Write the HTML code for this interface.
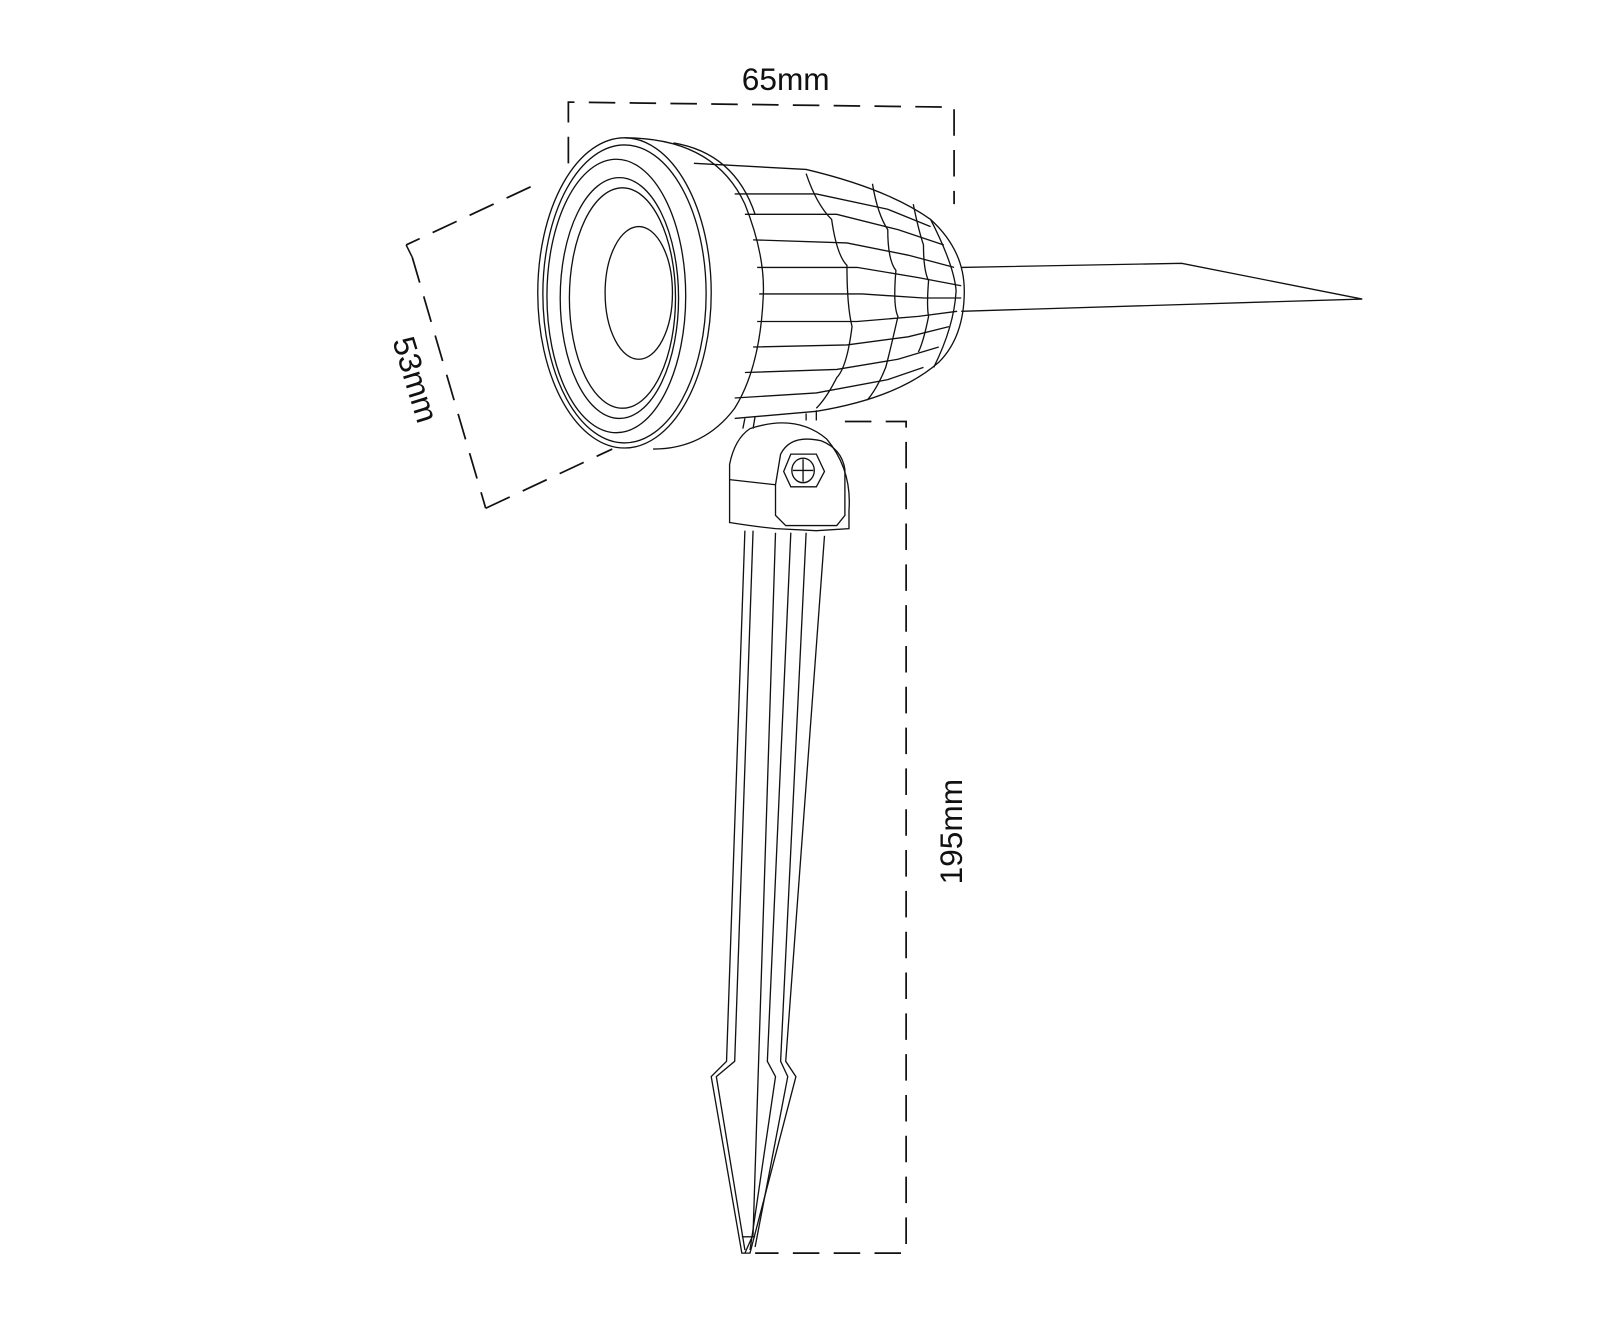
<!DOCTYPE html>
<html><head><meta charset="utf-8"><style>
html,body{margin:0;padding:0;background:#fff;}
svg{display:block;}
text{font-family:"Liberation Sans","DejaVu Sans",sans-serif;fill:#111;}
</style></head><body>
<svg width="1600" height="1344" viewBox="0 0 1568 1317" xmlns="http://www.w3.org/2000/svg">
<g fill="none" stroke="#111" stroke-width="1.7" stroke-dasharray="26,14">
  <path d="M557,160 L557,100 L935,105 L935,200"/>
  <path d="M520,183 L398,240"/>
  <path d="M404,252 L476,498"/>
  <path d="M476,498 L600,440"/>
  <path d="M828,413 L888,413 L888,1228 L740,1228"/>
</g>
<g fill="none" stroke="#111" stroke-width="1.5">
  <path d="M398,240 L404,252"/>
</g>
<text x="770" y="88" font-size="31" text-anchor="middle">65mm</text>
<text x="0" y="0" font-size="31" text-anchor="middle" transform="translate(397,375) rotate(73)">53mm</text>
<text x="0" y="0" font-size="31" text-anchor="middle" transform="translate(943,815) rotate(-90)">195mm</text>

<g fill="none" stroke="#111" stroke-width="1.3">
  <path d="M942,262 L1158,258 L1335,293 L942,305"/>
  <path d="M680,160 L790,166 Q870,185 912,215 Q945,245 945,285 Q945,330 920,355 Q880,390 800,403 L720,410"/>
  <path d="M912,215 Q935,260 937,285 Q935,320 915,360"/>
  <path d="M720,190 L800,190 L870,205 L912,222"/>
  <path d="M730,210 L820,210 L880,225 L925,240"/>
  <path d="M738,235 L830,238 L890,250 L935,262"/>
  <path d="M742,262 L840,262 L900,272 L942,280"/>
  <path d="M744,288 L845,288 L905,292 L942,292"/>
  <path d="M742,315 L840,315 L900,310 L938,305"/>
  <path d="M738,340 L830,338 L890,330 L930,320"/>
  <path d="M730,365 L820,362 L880,352 L920,340"/>
  <path d="M720,390 L800,385 L870,372 L905,360"/>
  <path d="M790,170 Q800,200 815,215 Q820,250 830,260 Q830,300 835,320 Q830,360 820,370 Q810,390 800,400"/>
  <path d="M855,180 Q860,210 870,225 Q870,255 878,265 Q875,300 880,310 Q872,345 868,360 Q860,380 850,392"/>
  <path d="M895,200 Q900,225 905,240 Q905,265 910,275 Q908,300 910,310 Q905,335 900,345"/>
  <ellipse cx="612" cy="287" rx="85" ry="152"/>
  <ellipse cx="612" cy="288" rx="80" ry="146"/>
  <path d="M612,135 Q700,135 730,200 Q750,250 748,290 Q745,360 720,400 Q690,440 640,440"/>
  <path d="M660,140 Q720,150 740,210"/>
  <ellipse cx="604" cy="290" rx="68" ry="134"/>
  <ellipse cx="607" cy="292" rx="58" ry="118"/>
  <ellipse cx="610" cy="292" rx="52" ry="108"/>
  <ellipse cx="626" cy="287" rx="33" ry="65"/>
  <path d="M730,410 L728,420 M740,408 L738,420 M790,405 L790,412 M800,402 L800,412"/>
  <path d="M735,420 Q780,405 810,430 Q835,460 832,500 L832,518 L800,520 L760,518 Q740,516 715,512 L715,455 Q720,430 735,420"/>
  <path d="M715,470 L760,475"/>
  <path d="M760,475 L760,505 L770,515 L820,515 L828,505 L828,460 Q825,440 805,432 Q775,425 765,445 Z"/>
  <path d="M775,445 L800,445 L808,462 L800,477 L775,477 L768,462 Z"/>
  <ellipse cx="787" cy="461" rx="11" ry="12"/>
  <path d="M777,461 L797,461 M787,450 L787,472"/>
  <path d="M730,520 L712,1040 L697,1055 L727,1228 L735,1228 L780,1055 L770,1040 L808,525"/>
  <path d="M738,520 L720,1040 L702,1055 L730,1225"/>
  <path d="M775,522 L752,1040 L760,1055 L735,1225"/>
  <path d="M790,522 L765,1040 L772,1055 L740,1222"/>
  <path d="M760,522 L738,1210 L730,1228"/>
  <path d="M727,1212 L740,1212"/>
</g>
</svg>
</body></html>
